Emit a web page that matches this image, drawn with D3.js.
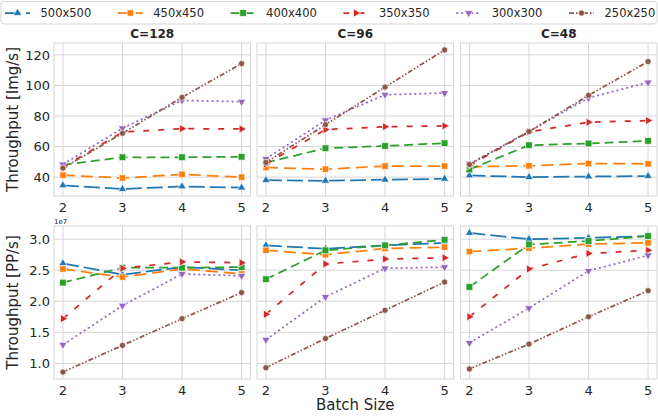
<!DOCTYPE html>
<html>
<head>
<meta charset="utf-8">
<script src="https://cdn.jsdelivr.net/npm/d3@7"></script>
<style>
  body { margin: 0; background: #fff; }
  svg { display: block; font-family: "DejaVu Sans", sans-serif; }
</style>
</head>
<body>
<div id="chart"></div>
<script>
// data
const batchSizes = [2, 3, 4, 5];
const resolutions = ["500x500", "450x450", "400x400", "350x350", "300x300", "250x250"];
const panelTitles = ["C=128", "C=96", "C=48"];

// Img/s, one row per resolution
const imgC128 = [
  [34.6, 32.2, 33.9, 33.1],
  [41.3, 39.4, 41.8, 40.0],
  [48.0, 53.0, 53.0, 53.3],
  [46.5, 69.5, 71.7, 71.5],
  [48.3, 72.0, 90.2, 89.3],
  [45.9, 68.7, 92.2, 114.3]
];
const imgC96 = [
  [38.0, 37.6, 38.3, 38.9],
  [46.3, 45.2, 47.2, 47.2],
  [49.5, 58.9, 60.4, 62.2],
  [48.5, 71.1, 73.0, 73.5],
  [52.0, 77.2, 93.9, 95.0],
  [49.6, 74.3, 98.9, 123.2]
];
const imgC48 = [
  [41.1, 40.0, 40.4, 40.7],
  [46.8, 47.4, 48.9, 48.7],
  [45.0, 60.9, 62.0, 63.7],
  [47.5, 69.6, 75.9, 77.0],
  [48.7, 69.8, 91.8, 101.9],
  [48.3, 69.8, 93.5, 115.6]
];

// PP/s (x 1e7)
const ppC128 = [
  [2.61, 2.43, 2.55, 2.50],
  [2.52, 2.39, 2.52, 2.44],
  [2.30, 2.54, 2.54, 2.55],
  [1.72, 2.53, 2.635, 2.62],
  [1.30, 1.93, 2.44, 2.41],
  [0.86, 1.29, 1.72, 2.14]
];
const ppC96 = [
  [2.90, 2.845, 2.90, 2.94],
  [2.82, 2.75, 2.85, 2.87],
  [2.355, 2.82, 2.90, 2.99],
  [1.79, 2.60, 2.68, 2.70],
  [1.38, 2.07, 2.53, 2.55],
  [0.93, 1.40, 1.855, 2.31]
];
const ppC48 = [
  [3.10, 3.00, 3.02, 3.05],
  [2.80, 2.855, 2.92, 2.94],
  [2.23, 2.915, 2.97, 3.05],
  [1.75, 2.52, 2.77, 2.82],
  [1.33, 1.89, 2.49, 2.74],
  [0.91, 1.31, 1.75, 2.17]
];

const yTicksTop = [40, 60, 80, 100, 120];
const yTicksBottom = [1.0, 1.5, 2.0, 2.5, 3.0];

const colors = ["#1f77b4", "#ff7f0e", "#2ca02c", "#d62728", "#9467bd", "#8c564b"];
const dashes = ["16,5", "12,6", "9,5", "6,9", "2,3", "5,2,1.5,2,1.5,2"];
const markers = [
  { type: d3.symbolTriangle, size: 30, rot: 0 },
  { type: d3.symbolSquare, size: 42, rot: 0 },
  { type: d3.symbolSquare, size: 46, rot: 0 },
  { type: d3.symbolTriangle, size: 30, rot: 90 },
  { type: d3.symbolTriangle, size: 30, rot: 180 },
  { type: d3.symbolCircle, size: 30, rot: 0 }
];

const W = 658, H = 420;
const colX = [54, 257, 460.5];
const panelW = 196.5;
const rowY = [[43, 196], [226, 379]];
const gridColor = "#d5d5d5";
const textColor = "#262626";

const svg = d3.select("#chart").append("svg")
  .attr("width", W)
  .attr("height", H);

// matplotlib style 5% margins
function padded(ext) {
  const p = (ext[1] - ext[0]) * 0.05;
  return [ext[0] - p, ext[1] + p];
}

const rows = [
  { data: [imgC128, imgC96, imgC48], ticks: yTicksTop, fmt: d3.format("d"), label: "Throughput [Img/s]" },
  { data: [ppC128, ppC96, ppC48], ticks: yTicksBottom, fmt: d3.format(".1f"), label: "Throughput [PP/s]" }
];

rows.forEach((row, ri) => {
  const [top, bottom] = rowY[ri];
  const all = row.data.flat(2);
  const y = d3.scaleLinear().domain(padded(d3.extent(all))).range([bottom, top]);

  row.data.forEach((series, ci) => {
    const left = colX[ci];
    const x = d3.scaleLinear().domain(padded([2, 5])).range([left, left + panelW]);
    const g = svg.append("g");

    // grid
    g.selectAll(".gx").data(batchSizes).enter().append("line")
      .attr("x1", d => x(d)).attr("x2", d => x(d))
      .attr("y1", top).attr("y2", bottom)
      .attr("stroke", gridColor).attr("stroke-width", 1);
    g.selectAll(".gy").data(row.ticks).enter().append("line")
      .attr("x1", left).attr("x2", left + panelW)
      .attr("y1", d => y(d)).attr("y2", d => y(d))
      .attr("stroke", gridColor).attr("stroke-width", 1);

    // frame
    g.append("rect")
      .attr("x", left).attr("y", top)
      .attr("width", panelW).attr("height", bottom - top)
      .attr("fill", "none").attr("stroke", gridColor).attr("stroke-width", 1);

    // x tick labels
    g.selectAll(".xt").data(batchSizes).enter().append("text")
      .attr("x", d => x(d)).attr("y", bottom + 15.5)
      .attr("text-anchor", "middle")
      .attr("font-size", 13).attr("fill", textColor)
      .text(d => d);

    // y tick labels only on first column
    if (ci === 0) {
      g.selectAll(".yt").data(row.ticks).enter().append("text")
        .attr("x", left - 4).attr("y", d => y(d))
        .attr("dy", "0.36em")
        .attr("text-anchor", "end")
        .attr("font-size", 13).attr("fill", textColor)
        .text(row.fmt);
    }

    if (ri === 0) {
      g.append("text")
        .attr("x", left + panelW / 2).attr("y", 38)
        .attr("text-anchor", "middle")
        .attr("font-size", 12).attr("font-weight", "bold").attr("fill", textColor)
        .text(panelTitles[ci]);
    }

    const line = d3.line().x((d, i) => x(batchSizes[i])).y(d => y(d));

    series.forEach((vals, si) => {
      g.append("path")
        .attr("d", line(vals))
        .attr("fill", "none")
        .attr("stroke", colors[si])
        .attr("stroke-width", 1.75)
        .attr("stroke-dasharray", dashes[si]);
      const m = markers[si];
      g.selectAll(null).data(vals).enter().append("path")
        .attr("d", d3.symbol().type(m.type).size(m.size))
        .attr("transform", (d, i) => `translate(${x(batchSizes[i])},${y(d)}) rotate(${m.rot})`)
        .attr("fill", colors[si])
        .attr("stroke", "#fff")
        .attr("stroke-width", 0.7);
    });
  });

  // row y label
  svg.append("text")
    .attr("transform", `translate(18,${(top + bottom) / 2}) rotate(-90)`)
    .attr("text-anchor", "middle")
    .attr("font-size", 15).attr("fill", textColor)
    .text(row.label);
});

// offset text for the PP/s axis
svg.append("text")
  .attr("x", colX[0]).attr("y", rowY[1][0] - 2)
  .attr("font-size", 7).attr("fill", textColor)
  .text("1e7");

svg.append("text")
  .attr("x", colX[1] + panelW / 2).attr("y", 410)
  .attr("text-anchor", "middle")
  .attr("font-size", 15).attr("fill", textColor)
  .text("Batch Size");

// legend across the top
const legend = svg.append("g");
legend.append("rect")
  .attr("x", 1).attr("y", 1.5)
  .attr("width", W - 2).attr("height", 22.5)
  .attr("rx", 3)
  .attr("fill", "#fff").attr("stroke", "#d5d5d5").attr("stroke-width", 1);

resolutions.forEach((name, i) => {
  const lx = 5 + i * 112.8;
  const item = legend.append("g");
  item.append("line")
    .attr("x1", lx).attr("x2", lx + 25)
    .attr("y1", 13).attr("y2", 13)
    .attr("stroke", colors[i]).attr("stroke-width", 1.75)
    .attr("stroke-dasharray", dashes[i]);
  item.append("path")
    .attr("d", d3.symbol().type(markers[i].type).size(markers[i].size))
    .attr("transform", `translate(${lx + 12.5},13) rotate(${markers[i].rot})`)
    .attr("fill", colors[i]).attr("stroke", "#fff").attr("stroke-width", 0.7);
  item.append("text")
    .attr("x", lx + 35.5).attr("y", 17)
    .attr("font-size", 11.5).attr("fill", textColor)
    .text(name);
});
</script>
</body>
</html>
